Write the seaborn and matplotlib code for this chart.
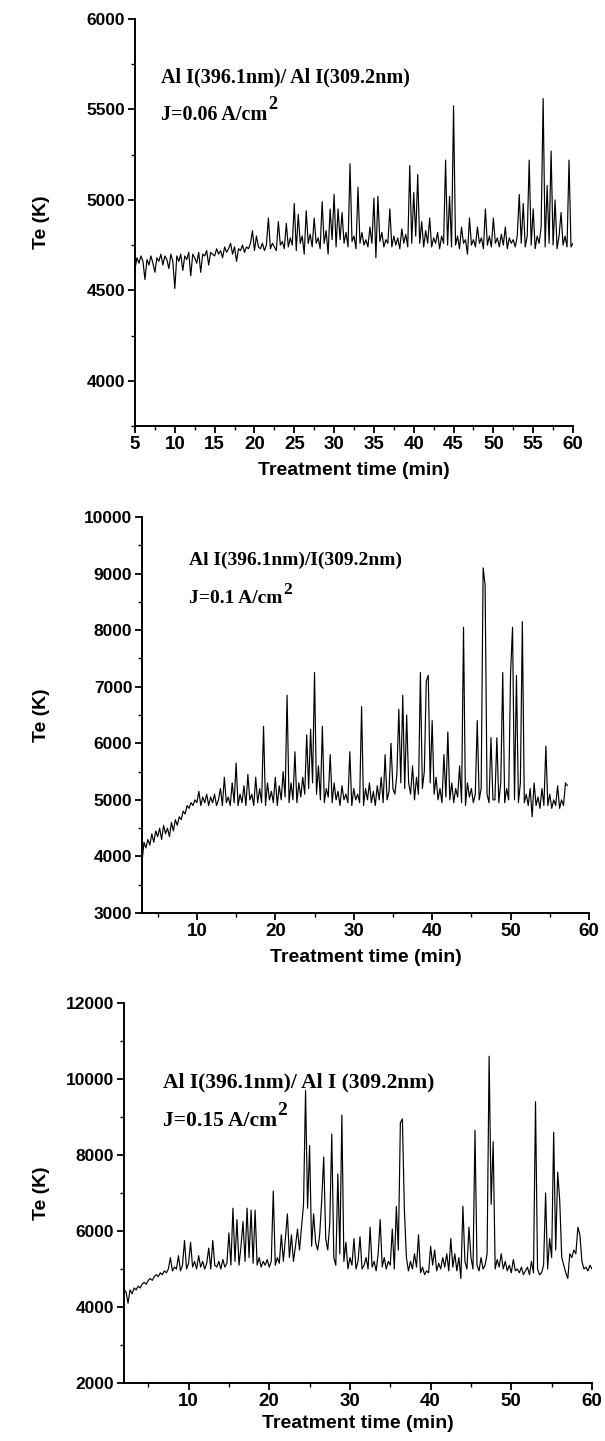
import numpy as np
import pandas as pd
import matplotlib
matplotlib.use("Agg")
import matplotlib.pyplot as plt
from matplotlib.ticker import MultipleLocator
import seaborn as sns

# ---------------- data ----------------
# Panel 1: J = 0.06 A/cm2, time 5..60 min, step 0.25 min
t1_start, t1_step = 5.0, 0.25
te1 = [
    4620, 4680, 4650, 4690, 4660, 4560, 4670, 4640, 4690, 4650, 4600, 4680, 4660, 4700, 4640, 4690, 4670, 4620, 4700, 4660,
    4510, 4690, 4660, 4700, 4610, 4690, 4670, 4710, 4580, 4700, 4680, 4650, 4710, 4600, 4700, 4690, 4720, 4640, 4710, 4700,
    4690, 4730, 4700, 4720, 4680, 4740, 4710, 4730, 4760, 4700, 4740, 4660, 4730, 4720, 4750, 4710, 4740, 4730, 4760, 4830,
    4720, 4800, 4740, 4730, 4760, 4720, 4750, 4900, 4730, 4760, 4740, 4720, 4880, 4750, 4770, 4730, 4870, 4740, 4790, 4750,
    4980, 4720, 4920, 4760, 4800, 4700, 4940, 4760, 4810, 4740, 4900, 4760, 4790, 4730, 4990, 4760, 4830, 4700, 4950, 4780,
    5030, 4740, 4950, 4780, 4930, 4760, 4820, 4740, 5200, 4770, 4800, 4730, 5070, 4760, 4820, 4750, 4780, 4740, 4850, 4760,
    5010, 4680, 5020, 4770, 4820, 4740, 4780, 4760, 4950, 4740, 4800, 4750, 4790, 4730, 4840, 4760, 4810, 4740, 5190, 4760,
    5040, 4800, 5140, 4760, 4880, 4740, 4830, 4760, 4900, 4740, 4790, 4760, 4820, 4730, 4800, 4760, 5220, 4750, 5020, 4740,
    5520, 4750, 4800, 4730, 4850, 4760, 4780, 4700, 4900, 4750, 4780, 4740, 4850, 4760, 4790, 4730, 4950, 4750, 4800, 4740,
    4900, 4760, 4790, 4740, 4810, 4750, 4850, 4730, 4790, 4760, 4780, 4740, 4800, 5030, 4760, 4980, 4740, 4800, 5220, 4750,
    4950, 4730, 4800, 4760, 4850, 5560, 4740, 5080, 4760, 5270, 4750, 5000, 4730, 4800, 4930, 4750, 4800, 4740, 5220, 4740,
    4760,
]

# Panel 2: J = 0.1 A/cm2, time 3..57.25 min, step 0.25 min
t2_start, t2_step = 3.0, 0.25
te2 = [
    3900, 4250, 4150, 4300, 4200, 4400, 4250, 4450, 4350, 4500, 4300, 4550, 4400, 4500, 4350, 4600, 4450, 4650, 4550, 4700,
    4650, 4800, 4750, 4900, 4850, 4950, 4900, 5000, 4950, 5150, 4900, 5050, 4950, 5100, 4900, 5050, 4950, 5100, 4900, 5000,
    5200, 4900, 5400, 4950, 5050, 4900, 5300, 4950, 5650, 4900, 5100, 4950, 5250, 4900, 5450, 5000, 5100, 4900, 5400, 4950,
    5200, 4950, 6300, 4900, 5300, 5000, 5150, 4950, 5400, 4900, 5250, 5000, 5500, 5050, 6850, 4950, 5300, 5000, 5850, 4950,
    5300, 5050, 5400, 5100, 6150, 5200, 6250, 5300, 7250, 5100, 5600, 5000, 6300, 4950, 5200, 5050, 5800, 4950, 5300, 5000,
    5150, 4900, 5250, 5000, 5100, 4950, 5850, 4900, 5200, 5000, 5100, 4950, 6650, 4900, 5200, 5000, 5300, 4950, 5150, 4900,
    5250, 5000, 5400, 4950, 5800, 5000, 5150, 6000, 5200, 5100, 5450, 6600, 5300, 6850, 5200, 6500, 5300, 5100, 5600, 5000,
    5400, 5100, 7250, 5200, 5500, 7100, 7200, 5300, 6400, 5100, 5400, 5000, 5200, 4950, 5800, 5050, 6200, 5000, 5300, 4950,
    5200, 5050, 5600, 4950, 8050, 4900, 5300, 5050, 5200, 4950, 5100, 6400, 5000, 5200, 9100, 8800, 5100, 4950, 6100, 5000,
    5000, 6100, 4950, 5300, 7250, 4950, 5200, 5000, 7250, 8050, 5000, 7200, 4950, 5300, 8150, 4950, 5100, 4900, 5200, 4700,
    5300, 4900, 5050, 4850, 5200, 4900, 5950, 4900, 5100, 4850, 5000, 4900, 5250, 4850, 5000, 4900, 5300, 5250,
]

# Panel 3: J = 0.15 A/cm2, time 2..60 min, step 0.25 min
t3_start, t3_step = 2.0, 0.25
te3 = [
    4450, 4400, 4100, 4450, 4350, 4500, 4450, 4550, 4500, 4600, 4650, 4600, 4700, 4750, 4700, 4800, 4850, 4800, 4900, 4850,
    4950, 4900, 5000, 5300, 4950, 5050, 5000, 5350, 4950, 5100, 5750, 5000, 5150, 5700, 5050, 5200, 5000, 5350, 5050, 5200,
    5000, 5150, 5550, 5000, 5750, 5100, 5050, 5200, 5000, 5250, 5050, 5150, 5950, 5100, 6600, 5200, 6300, 5100, 5600, 6250,
    5200, 6600, 5300, 6550, 5150, 6550, 5100, 5300, 5050, 5200, 5100, 5250, 5050, 5200, 7050, 5100, 5300, 5150, 5900, 5200,
    5800, 6450, 5300, 5900, 5200, 5600, 6050, 5500, 6100, 6700, 9700, 6600, 8250, 5600, 6450, 5700, 5500, 5900, 6800, 7950,
    5800, 5500, 6200, 8550, 5300, 5100, 7500, 5400, 9050, 5200, 5700, 5000, 5300, 5100, 5800, 5000, 5200, 5850, 5000, 5100,
    5300, 5000, 6100, 5050, 5200, 4950, 5400, 6300, 5050, 5300, 5000, 5200, 5100, 6050, 5000, 6650, 5500, 8850, 8950, 6550,
    5300, 4950, 5200, 5000, 5400, 5050, 5900, 4900, 5050, 4850, 4950, 4900, 5600, 5100, 5500, 4950, 5150, 5000, 5300, 5050,
    5400, 4950, 5800, 5050, 5400, 4950, 5300, 4750, 6650, 5200, 5000, 6100, 5300, 5000, 8650, 5100, 4950, 5300, 5000, 5100,
    5400, 10600, 6700, 8350, 5000, 5250, 5050, 5400, 5000, 5200, 4950, 5100, 4900, 5250, 4950, 5000, 4900, 5050, 4850, 4950,
    5050, 4850, 5200, 4900, 9400, 5000, 4850, 4900, 5100, 7000, 5000, 5800, 5300, 8600, 5500, 7550, 6800, 5300, 5100, 4900,
    4750, 5400, 5300, 5500, 5400, 6100, 5900, 5200, 5000, 5050, 4950, 5100, 5000,
]

label_line1 = ["Al I(396.1nm)/ Al I(309.2nm)", "Al I(396.1nm)/I(309.2nm)", "Al I(396.1nm)/ Al I (309.2nm)"]
label_line2 = ["J=0.06 A/cm", "J=0.1 A/cm", "J=0.15 A/cm"]
xlabel = "Treatment time (min)"
ylabel = "Te (K)"


def frame(start, step, values):
    t = start + step * np.arange(len(values))
    return pd.DataFrame({"t": t, "Te": values})


df1 = frame(t1_start, t1_step, te1)
df2 = frame(t2_start, t2_step, te2)
df3 = frame(t3_start, t3_step, te3)

# ---------------- style ----------------
sns.set_style("ticks")
plt.rcParams["font.family"] = ["Liberation Sans", "DejaVu Sans"]
plt.rcParams["text.color"] = "black"
plt.rcParams["axes.labelcolor"] = "black"

W, H = 605, 1441
fig = plt.figure(figsize=(W / 100, H / 100), dpi=100)


def px_axes(left, right, top, bottom):
    return fig.add_axes([left / W, 1 - bottom / H, (right - left) / W, (bottom - top) / H])


bounds = [(135, 573, 19, 426), (142, 589, 517, 913), (124, 592, 1003, 1383)]
axes = [px_axes(*b) for b in bounds]

specs = [
    (df1, (5, 60), (3750, 6000), 5, 2.5, 500, 250, (8.3, 5675), (8.3, 5470), 7, 14.5),
    (df2, (3, 60), (3000, 10000), 10, 5, 1000, 500, (9.0, 9225), (9.0, 8560), 7, 14),
    (df3, (2, 60), (2000, 12000), 10, 5, 2000, 1000, (6.8, 9900), (6.8, 8900), 4, 15.5),
]

for i, (ax, spec) in enumerate(zip(axes, specs)):
    df, xl, yl, xmaj, xmin, ymaj, ymin, p1, p2, xpad, fsz = spec
    sns.lineplot(data=df, x="t", y="Te", ax=ax, color="black", linewidth=0.85,
                 estimator=None, sort=False)
    ax.set_xlim(*xl)
    ax.set_ylim(*yl)
    ax.xaxis.set_major_locator(MultipleLocator(xmaj))
    ax.xaxis.set_minor_locator(MultipleLocator(xmin))
    ax.yaxis.set_major_locator(MultipleLocator(ymaj))
    ax.yaxis.set_minor_locator(MultipleLocator(ymin))
    sns.despine(ax=ax)
    for s in ["left", "bottom"]:
        ax.spines[s].set_linewidth(1.4)
        ax.spines[s].set_color("black")
    ax.tick_params(axis="both", which="major", direction="out", length=5, width=1.3,
                   labelsize=12.5, colors="black", pad=2)
    ax.tick_params(axis="x", which="major", labelsize=13.5)
    ax.tick_params(axis="both", which="minor", direction="out", length=3, width=1.0,
                   colors="black")
    for lab in ax.get_xticklabels() + ax.get_yticklabels():
        lab.set_fontweight("bold")
    ax.set_xlabel(xlabel, fontsize=14, fontweight="bold", labelpad=xpad, color="black")
    ax.set_ylabel(ylabel, fontsize=14, fontweight="bold", labelpad=0, color="black")
    left, right = bounds[i][0], bounds[i][1]
    ax.yaxis.set_label_coords((50 - left) / (right - left), 0.5)
    ax.text(p1[0], p1[1], label_line1[i], family="Liberation Serif", fontweight="bold",
            fontsize=fsz, va="center", ha="left", color="black")
    t2 = ax.text(p2[0], p2[1], label_line2[i], family="Liberation Serif", fontweight="bold",
                 fontsize=fsz, va="center", ha="left", color="black")
    ax.annotate("2", xy=(1, 1), xycoords=t2, xytext=(0.5, -6), textcoords="offset points",
                family="Liberation Serif", fontweight="bold", fontsize=fsz - 1.5,
                va="bottom", ha="left", color="black")

fig.savefig("out.png", dpi=100, facecolor="white")
